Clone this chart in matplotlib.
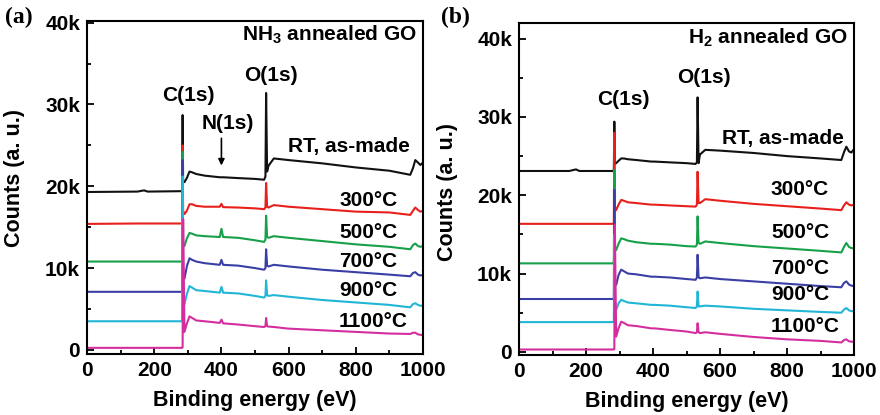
import matplotlib
matplotlib.use("Agg")
import matplotlib.pyplot as plt
from matplotlib.ticker import MultipleLocator, FuncFormatter

plt.rcParams['font.family'] = ['Liberation Sans', 'DejaVu Sans']
plt.rcParams['mathtext.fontset'] = 'custom'
plt.rcParams['mathtext.rm'] = 'Liberation Sans:bold'
plt.rcParams['mathtext.bf'] = 'Liberation Sans:bold'

# ---------------- data (counts in units of 1k) ----------------
energy = [0, 150, 170, 180, 280, 283, 284.5, 286, 290, 297, 305, 313, 325, 350,
          395, 400, 405, 450, 500, 527, 531, 533, 536, 540, 556, 600, 700, 800,
          900, 962, 970, 977, 985, 992, 1000]

series_labels = ["RT, as-made", "300°C", "500°C", "700°C", "900°C", "1100°C"]
series_colors = ["#111111", "#e8201c", "#17a04a", "#3a3fa6", "#22b6d6", "#d42e9e"]

# Panel (a): NH3 annealed GO
a_rt = [19.3, 19.35, 19.5, 19.35, 19.4, 19.5, 28.7, 20.6, 20.5, 21.0, 21.8, 21.7, 21.5, 21.3,
        21.1, 21.1, 21.1, 21.0, 20.9, 20.8, 21.2, 31.4, 21.8, 22.5, 23.4, 23.2, 22.8, 22.3,
        21.9, 21.4, 22.2, 23.2, 22.9, 22.6, 22.9]
a_300 = [15.4, 15.45, 15.45, 15.45, 15.45, 15.5, 25.0, 17.0, 16.6, 17.0, 17.8, 17.8, 17.6, 17.5,
         17.5, 17.85, 17.45, 17.4, 17.3, 17.2, 17.4, 20.4, 17.5, 17.4, 17.7, 17.5, 17.2, 16.9,
         16.8, 16.5, 17.0, 17.4, 17.1, 16.9, 17.0]
a_500 = [10.8, 10.8, 10.8, 10.8, 10.8, 10.85, 24.2, 13.0, 12.7, 13.6, 14.3, 14.2, 14.0, 13.9,
         13.8, 14.8, 13.8, 13.7, 13.4, 13.2, 13.5, 16.4, 13.8, 13.7, 13.9, 13.7, 13.3, 12.9,
         12.6, 12.3, 12.8, 13.0, 12.7, 12.6, 12.7]
a_700 = [7.1, 7.1, 7.1, 7.1, 7.1, 7.15, 23.2, 9.5, 8.7, 10.2, 11.2, 11.0, 10.8, 10.6,
         10.4, 11.0, 10.4, 10.3, 10.0, 9.8, 10.0, 12.3, 10.3, 10.2, 10.4, 10.2, 9.8, 9.5,
         9.2, 9.0, 9.4, 9.5, 9.2, 9.1, 9.15]
a_900 = [3.5, 3.5, 3.5, 3.5, 3.5, 3.55, 21.2, 6.5, 5.6, 6.8, 7.8, 7.6, 7.3, 7.2,
         7.0, 7.7, 7.0, 6.9, 6.6, 6.4, 6.6, 8.5, 6.7, 6.6, 6.7, 6.5, 6.1, 5.8,
         5.5, 5.2, 5.6, 5.7, 5.5, 5.4, 5.4]
a_1100 = [0.25, 0.25, 0.25, 0.25, 0.25, 0.25, 0.3, 16.0, 2.2, 3.2, 4.1, 3.9, 3.6, 3.5,
          3.3, 3.7, 3.25, 3.1, 2.9, 2.8, 2.9, 3.9, 2.9, 2.85, 2.8, 2.6, 2.4, 2.2,
          2.0, 1.95, 2.1, 2.1, 1.9, 1.85, 1.8]

# Panel (b): H2 annealed GO
b_rt = [23.1, 23.1, 23.3, 23.1, 23.1, 23.15, 29.4, 24.0, 24.1, 24.4, 24.7, 24.7, 24.6, 24.5,
        24.3, 24.3, 24.3, 24.2, 24.1, 24.0, 24.2, 32.5, 24.1, 25.2, 25.8, 25.7, 25.4, 25.0,
        24.7, 24.5, 25.5, 26.2, 25.6, 25.45, 25.9]
b_300 = [16.35, 16.35, 16.35, 16.35, 16.35, 16.4, 28.0, 18.6, 18.1, 18.8, 19.4, 19.3, 19.1, 19.0,
         18.8, 18.8, 18.8, 18.7, 18.6, 18.55, 18.8, 23.0, 19.0, 19.0, 19.5, 19.3, 18.9, 18.6,
         18.3, 18.1, 18.7, 19.1, 18.8, 18.7, 18.8]
b_500 = [11.3, 11.3, 11.3, 11.3, 11.3, 11.35, 23.2, 13.5, 13.0, 13.8, 14.5, 14.4, 14.2, 14.0,
         13.8, 13.8, 13.8, 13.7, 13.5, 13.45, 13.7, 17.3, 13.9, 13.8, 14.1, 13.9, 13.5, 13.2,
         12.9, 12.7, 13.4, 13.9, 13.4, 13.25, 13.25]
b_700 = [6.75, 6.75, 6.75, 6.75, 6.75, 6.8, 20.7, 9.0, 8.55, 9.8, 10.5, 10.3, 10.0, 9.9,
         9.6, 9.6, 9.6, 9.5, 9.3, 9.2, 9.5, 12.4, 9.5, 9.4, 9.5, 9.3, 9.0, 8.7,
         8.4, 8.25, 8.8, 9.0, 8.6, 8.45, 8.4]
b_900 = [3.8, 3.8, 3.8, 3.8, 3.8, 3.85, 15.0, 5.9, 5.35, 6.2, 6.65, 6.5, 6.3, 6.2,
         6.0, 6.0, 6.0, 5.9, 5.7, 5.6, 5.8, 7.7, 5.8, 5.8, 5.9, 5.8, 5.5, 5.3,
         5.1, 5.0, 5.4, 5.6, 5.3, 5.2, 5.2]
b_1100 = [0.3, 0.3, 0.3, 0.3, 0.3, 0.3, 0.35, 16.2, 1.95, 3.0, 3.85, 3.7, 3.4, 3.3,
          3.0, 3.0, 3.0, 2.8, 2.6, 2.4, 2.5, 3.65, 2.5, 2.4, 2.5, 2.3, 1.9, 1.6,
          1.4, 1.2, 1.5, 1.6, 1.35, 1.3, 1.3]

panel_a = [a_rt, a_300, a_500, a_700, a_900, a_1100]
panel_b = [b_rt, b_300, b_500, b_700, b_900, b_1100]

# label positions (energy, k counts)
a_label_pos = [(779, 24.8), (750, 18.3), (750, 14.3), (750, 10.8), (750, 7.3), (750, 3.45)]
b_label_pos = [(787, 27.3), (750, 20.7), (752, 15.2), (752, 10.7), (752, 7.3), (752, 3.2)]

x_ticks = [0, 200, 400, 600, 800, 1000]
y_ticks = [0, 10, 20, 30, 40]

fig = plt.figure(figsize=(8.8, 4.15), dpi=100)
ax_a = fig.add_axes([0.0989, 0.147, 0.3818, 0.8024])
ax_b = fig.add_axes([0.5898, 0.1446, 0.3807, 0.8000])

fs_tick = 15
fs_lab = 15.5

for ax, data, lpos, ylim in [(ax_a, panel_a, a_label_pos, (-0.5, 40.2)),
                              (ax_b, panel_b, b_label_pos, (-0.4, 42.0))]:
    for vals, col in zip(data, series_colors):
        ax.plot(energy, vals, color=col, lw=1.5, solid_joinstyle='round')
    for (x, y), lab in zip(lpos, series_labels):
        ha = 'center' if lab.startswith('RT') else 'left'
        ax.text(x, y, lab, ha=ha, va='center', fontsize=fs_tick, fontweight='bold')
    ax.set_xlim(0, 1000)
    ax.set_ylim(*ylim)
    ax.set_xticks(x_ticks)
    ax.set_yticks(y_ticks)
    ax.xaxis.set_minor_locator(MultipleLocator(100))
    ax.yaxis.set_minor_locator(MultipleLocator(5))
    ax.yaxis.set_major_formatter(FuncFormatter(lambda v, p: "0" if v == 0 else f"{int(v)}k"))
    ax.tick_params(which='both', direction='in', top=False, right=False,
                   labelsize=fs_tick, width=1.3)
    ax.tick_params(which='major', length=5, pad=5)
    ax.tick_params(which='minor', length=3)
    for lab in ax.get_xticklabels() + ax.get_yticklabels():
        lab.set_fontweight('bold')
    for sp in ax.spines.values():
        sp.set_linewidth(1.5)
    ax.set_xlabel("Binding energy (eV)", fontsize=fs_lab, fontweight='bold', labelpad=7)
    ax.set_ylabel("Counts (a. u.)", fontsize=fs_lab, fontweight='bold')

ax_a.yaxis.set_label_coords(-0.185, 0.53)
ax_b.yaxis.set_label_coords(-0.182, 0.49)

# panel (a) annotations
ax_a.text(980, 38.5, r"NH$_3$ annealed GO", ha='right', va='center', fontsize=fs_tick, fontweight='bold')
ax_a.text(301, 31.1, "C(1s)", ha='center', va='center', fontsize=fs_tick, fontweight='bold')
ax_a.text(546, 33.5, "O(1s)", ha='center', va='center', fontsize=fs_tick, fontweight='bold')
ax_a.text(420, 27.7, "N(1s)", ha='center', va='center', fontsize=fs_tick, fontweight='bold')
ax_a.annotate("", xy=(400, 22.2), xytext=(400, 26.2),
              arrowprops=dict(arrowstyle='-|>', color='black', lw=1.2, mutation_scale=9))

# panel (b) annotations
ax_b.text(982, 40.1, r"H$_2$ annealed GO", ha='right', va='center', fontsize=fs_tick, fontweight='bold')
ax_b.text(311, 32.2, "C(1s)", ha='center', va='center', fontsize=fs_tick, fontweight='bold')
ax_b.text(552, 35.0, "O(1s)", ha='center', va='center', fontsize=fs_tick, fontweight='bold')

fig.text(5 / 880, 1 - 17 / 415, "(a)", ha='left', va='center', fontsize=17,
         fontweight='bold', family=['Liberation Serif', 'DejaVu Serif'])
fig.text(441 / 880, 1 - 17 / 415, "(b)", ha='left', va='center', fontsize=17,
         fontweight='bold', family=['Liberation Serif', 'DejaVu Serif'])

fig.savefig("out.png", dpi=100)
